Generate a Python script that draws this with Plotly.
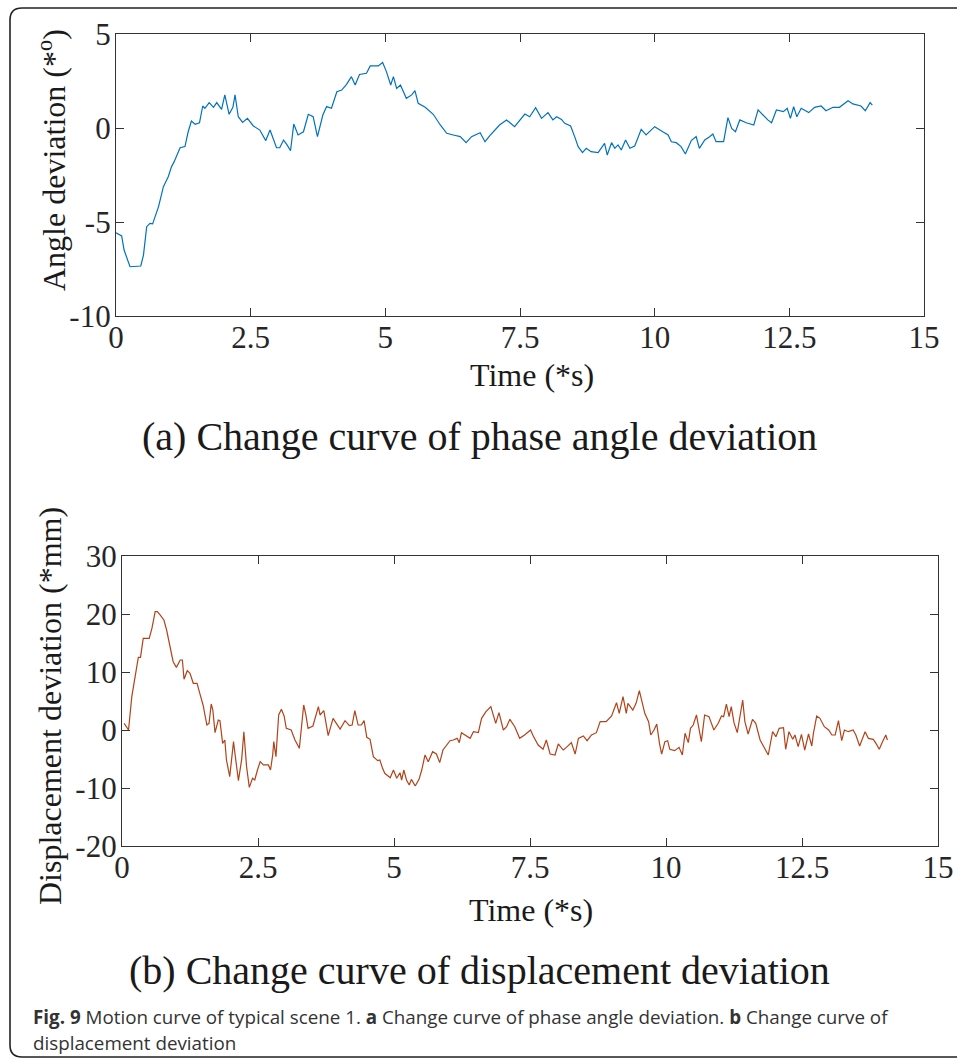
import plotly.graph_objects as go

W, H = 957, 1060

# ---------------- data ----------------
angle_t = [0, 0.105, 0.15, 0.26, 0.46, 0.51, 0.57, 0.63, 0.68, 0.79, 0.88, 0.97, 1.03, 1.08,
           1.19, 1.28, 1.34, 1.40, 1.47, 1.55, 1.61, 1.65, 1.73, 1.81, 1.87, 1.96, 2.02, 2.10,
           2.17, 2.21, 2.27, 2.35, 2.44, 2.55, 2.67, 2.78, 2.86, 2.91, 2.98, 3.04, 3.11, 3.17,
           3.24, 3.30, 3.38, 3.48, 3.57, 3.66, 3.74, 3.84, 3.91, 4.00, 4.10, 4.19, 4.28, 4.37,
           4.44, 4.52, 4.65, 4.72, 4.87, 4.95, 5.02, 5.10, 5.15, 5.21, 5.28, 5.39, 5.49, 5.55,
           5.61, 5.74, 5.89, 6.02, 6.14, 6.26, 6.39, 6.50, 6.60, 6.76, 6.85, 6.94, 7.12, 7.25,
           7.40, 7.59, 7.68, 7.79, 7.90, 8.02, 8.11, 8.18, 8.27, 8.33, 8.44, 8.52, 8.58, 8.66,
           8.73, 8.82, 8.95, 9.07, 9.12, 9.20, 9.26, 9.32, 9.38, 9.46, 9.54, 9.63, 9.75, 9.84,
           10.0, 10.15, 10.25, 10.31, 10.40, 10.49, 10.57, 10.68, 10.77, 10.83, 10.93, 11.02,
           11.08, 11.14, 11.28, 11.36, 11.43, 11.50, 11.58, 11.70, 11.84, 11.92, 12.01, 12.10,
           12.17, 12.26, 12.39, 12.46, 12.52, 12.58, 12.64, 12.72, 12.86, 12.97, 13.09, 13.18,
           13.31, 13.43, 13.59, 13.68, 13.83, 13.91, 14.00, 14.04]
angle_v = [-5.57, -5.74, -6.49, -7.38, -7.34, -6.76, -5.25, -5.07, -5.1, -4.18, -3.12, -2.59,
           -2.06, -1.79, -1.05, -0.99, -0.2, 0.37, 0.2, 0.28, 1.17, 1.05, 1.35, 1.1, 1.35, 0.99,
           1.76, 0.73, 1.1, 1.76, 0.6, 0.3, 0.51, 0.11, -0.11, -0.67, -0.11, -0.46, -1.05, -1.05,
           -0.64, -0.87, -1.21, 0.21, -0.37, -0.2, 0.73, 0.6, -0.46, 0.69, 1.14, 1.05, 1.93, 2.02,
           2.32, 2.73, 2.29, 2.85, 2.91, 3.3, 3.3, 3.48, 3.0, 2.29, 2.73, 2.11, 2.29, 1.58, 1.76,
           1.99, 1.31, 1.1, 0.73, 0.16, -0.28, -0.37, -0.46, -0.78, -0.46, -0.25, -0.73, -0.41,
           0.16, 0.43, 0.07, 0.74, 0.6, 1.08, 0.51, 0.82, 0.43, 0.6, 0.46, 0.25, 0.11, -0.5,
           -0.99, -1.31, -1.08, -1.26, -1.31, -0.82, -1.44, -0.78, -1.08, -0.9, -1.17, -0.64,
           -1.08, -0.96, -0.07, -0.37, 0.07, -0.2, -0.37, -0.73, -0.78, -0.99, -1.38, -0.67,
           -0.46, -1.08, -0.64, -0.46, -0.32, -0.73, -0.73, 0.55, -0.02, -0.2, 0.43, 0.28, 0.16,
           0.96, 0.69, 0.43, 0.28, 0.96, 0.87, 1.05, 0.51, 1.13, 0.6, 1.05, 0.82, 1.1, 1.17, 0.92,
           1.1, 1.1, 1.45, 1.28, 1.17, 0.92, 1.35, 1.22]

disp_t = [0.04, 0.12, 0.18, 0.26, 0.30, 0.34, 0.39, 0.50, 0.55, 0.61, 0.65, 0.70, 0.77, 0.82,
          0.88, 0.94, 1.00, 1.07, 1.11, 1.14, 1.20, 1.25, 1.31, 1.38, 1.43, 1.49, 1.56, 1.60,
          1.64, 1.67, 1.71, 1.77, 1.80, 1.85, 1.89, 1.92, 1.98, 2.05, 2.08, 2.14, 2.20, 2.24,
          2.29, 2.34, 2.40, 2.44, 2.49, 2.54, 2.60, 2.69, 2.73, 2.77, 2.79, 2.83, 2.88, 2.93,
          2.98, 3.02, 3.11, 3.18, 3.26, 3.30, 3.34, 3.38, 3.42, 3.51, 3.56, 3.61, 3.64, 3.71,
          3.79, 3.88, 3.94, 4.01, 4.10, 4.18, 4.23, 4.28, 4.34, 4.40, 4.45, 4.50, 4.56, 4.62,
          4.70, 4.74, 4.79, 4.83, 4.93, 4.99, 5.05, 5.11, 5.14, 5.18, 5.23, 5.28, 5.32, 5.39,
          5.46, 5.51, 5.57, 5.63, 5.71, 5.78, 5.84, 5.90, 6.03, 6.09, 6.16, 6.20, 6.24, 6.30,
          6.40, 6.46, 6.55, 6.61, 6.69, 6.78, 6.82, 6.87, 6.93, 7.01, 7.07, 7.13, 7.22, 7.31,
          7.40, 7.51, 7.56, 7.65, 7.74, 7.80, 7.87, 7.96, 8.02, 8.11, 8.17, 8.26, 8.33, 8.39,
          8.48, 8.55, 8.63, 8.72, 8.79, 8.90, 9.00, 9.06, 9.09, 9.14, 9.21, 9.27, 9.30, 9.39,
          9.45, 9.51, 9.57, 9.61, 9.68, 9.72, 9.78, 9.83, 9.88, 9.92, 9.98, 10.03, 10.07, 10.16,
          10.24, 10.30, 10.35, 10.41, 10.45, 10.50, 10.56, 10.65, 10.71, 10.79, 10.88, 10.96,
          11.02, 11.06, 11.11, 11.16, 11.20, 11.25, 11.31, 11.37, 11.41, 11.45, 11.51, 11.59,
          11.65, 11.73, 11.80, 11.88, 11.96, 12.02, 12.08, 12.16, 12.20, 12.26, 12.33, 12.37,
          12.43, 12.49, 12.55, 12.62, 12.68, 12.71, 12.77, 12.83, 12.91, 12.99, 13.05, 13.11,
          13.17, 13.23, 13.28, 13.35, 13.44, 13.49, 13.56, 13.66, 13.72, 13.81, 13.86, 13.92,
          13.98, 14.04, 14.07]
disp_v = [1.15, 0, 5.75, 10.63, 12.53, 12.53, 15.8, 15.8, 17.53, 20.4, 20.4, 19.83, 18.97,
          17.24, 14.66, 11.78, 10.8, 12.07, 12.07, 8.74, 10.23, 9.77, 8.05, 8.05, 6.32, 4.31,
          0.86, 1.15, 4.48, 3.45, -0.46, 1.72, 1.61, -2.3, -1.72, -5.17, -8.05, -2.01, -4.31,
          -8.74, -5.06, -0.29, -6.32, -9.89, -8.33, -8.62, -6.9, -5.46, -6.03, -6.03, -6.9,
          -4.31, -2.01, -4.6, 2.59, 3.56, 2.41, 0.29, 0, -1.72, -3.16, 0.57, 4.31, 2.59, 0.29,
          0.69, 2.59, 4.02, 2.59, 3.33, -0.98, 2.01, 1.15, 0.17, 1.61, 0.75, 0.86, 3.33, 0.86,
          0.86, 1.61, -1.26, -1.61, -4.6, -5.29, -5.17, -6.61, -7.47, -8.22, -6.9, -8.33, -7.36,
          -8.62, -6.9, -8.62, -9.48, -8.51, -9.66, -8.51, -6.9, -4.31, -5.46, -3.74, -4.14,
          -5.63, -3.45, -1.84, -1.72, -1.44, -2.18, -0.46, -0.86, -1.44, -0.29, -0.46, 2.01,
          3.16, 4.02, 2.59, 1.15, 2.99, 0, 0.57, 1.84, 0.57, -1.44, -0.86, 0, -1.03, -2.59,
          -3.33, -1.72, -4.14, -4.31, -2.41, -3.45, -2.99, -2.18, -4.14, -1.44, -1.03, -1.84,
          -0.86, -0.46, 1.44, 1.44, 2.41, 3.74, 4.71, 2.87, 5.75, 2.87, 4.6, 3.45, 4.6, 6.78,
          4.6, 2.87, 1.44, -0.86, 0, 1.03, -2.3, -4.14, -2.01, -1.84, -3.33, -3.56, -2.99, -4.31,
          -0.57, -2.18, 0.29, 0.86, 2.59, -2.01, 2.59, 2.3, 0, 1.15, 2.41, 2.3, 4.48, 2.3, 4.02,
          1.26, -0.46, 2.59, 5.17, 1.44, -0.69, 1.84, 1.15, -1.72, -2.87, -4.31, -0.29, -1.15,
          0.29, 0.4, -3.33, -0.29, -1.61, -0.86, -2.87, -0.75, -3.45, -0.69, -2.76, -0.57, 2.41,
          2.01, 0.57, 0, -0.86, -0.86, 1.61, -1.84, 0, -0.29, 0, -0.86, -2.76, -0.29, -1.44,
          -1.61, -2.3, -3.33, -2.01, -0.86, -1.72]

x_tickvals = [0, 2.5, 5, 7.5, 10, 12.5, 15]
x_ticktext = ["0", "2.5", "5", "7.5", "10", "12.5", "15"]
angle_tickvals = [-10, -5, 0, 5]
angle_ticktext = ["-10", "-5", "0", "5"]
disp_tickvals = [-20, -10, 0, 10, 20, 30]
disp_ticktext = ["-20", "-10", "0", "10", "20", "30"]

# ---------------- layout helpers ----------------
def px(x):
    return x / W

def py(y):
    return 1 - y / H

SERIF = "Liberation Serif, Times New Roman, serif"
AX = "#333333"
TICKFONT = dict(family=SERIF, size=31, color="#262626")

fig = go.Figure()
fig.add_trace(go.Scatter(x=angle_t, y=angle_v, mode="lines",
                         line=dict(color="#0072BD", width=1.2),
                         xaxis="x", yaxis="y", showlegend=False))
fig.add_trace(go.Scatter(x=disp_t, y=disp_v, mode="lines",
                         line=dict(color="#B0431A", width=1.2),
                         xaxis="x2", yaxis="y2", showlegend=False))

common = dict(showgrid=False, zeroline=False, showline=True, linecolor=AX, linewidth=1.3,
              mirror="ticks", ticks="inside", ticklen=8, tickwidth=1.2, tickcolor=AX,
              tickfont=TICKFONT, fixedrange=True, automargin=False)

fig.update_layout(
    template="none",
    width=W, height=H, autosize=False,
    margin=dict(l=0, r=0, t=0, b=0, pad=0, autoexpand=False),
    paper_bgcolor="white", plot_bgcolor="white",
    showlegend=False,
    xaxis=dict(domain=[px(116), px(924)], range=[0, 15], anchor="y",
               tickvals=x_tickvals, ticktext=x_ticktext, ticklabelstandoff=-6, **common),
    yaxis=dict(domain=[py(316), py(34)], range=[-10, 5], anchor="x",
               tickvals=angle_tickvals, ticktext=angle_ticktext, ticklabelstandoff=-2, **common),
    xaxis2=dict(domain=[px(122), px(938)], range=[0, 15], anchor="y2",
                tickvals=x_tickvals, ticktext=x_ticktext, ticklabelstandoff=-6, **common),
    yaxis2=dict(domain=[py(846), py(556)], range=[-20, 30], anchor="x2",
                tickvals=disp_tickvals, ticktext=disp_ticktext, ticklabelstandoff=-2, **common),
)

def note(text, x, y, size, angle=0, family=SERIF, xanchor="center", color="#1a1a1a"):
    fig.add_annotation(text=text, x=px(x), y=py(y), xref="paper", yref="paper",
                       showarrow=False, textangle=angle, xanchor=xanchor, yanchor="middle",
                       font=dict(family=family, size=size, color=color))

note("Angle deviation (*<sup>o</sup>)", 52, 160, 32, angle=-90)
note("Time (*s)", 532, 375, 32)
note("(a) Change curve of phase angle deviation", 479, 436, 40)
note("Displacement deviation (*mm)", 50, 706, 32, angle=-90)
note("Time (*s)", 531, 910, 32)
note("(b) Change curve of displacement deviation", 479, 970, 40)

CAP = "Open Sans, Noto Sans, sans-serif"
note("<b>Fig. 9</b> Motion curve of typical scene 1. <b>a</b> Change curve of phase angle "
     "deviation. <b>b</b> Change curve of", 31, 1017, 18.8, family=CAP, xanchor="left",
     color="#333333")
note("displacement deviation", 31, 1043, 18.8, family=CAP, xanchor="left", color="#333333")

# outer rounded frame (open on the right, as in the reference)
r = 12
path = (f"M {px(965)},{py(8)} L {px(10 + r)},{py(8)} "
        f"Q {px(10)},{py(8)} {px(10)},{py(8 + r)} "
        f"L {px(10)},{py(1057 - r)} Q {px(10)},{py(1057)} {px(10 + r)},{py(1057)} "
        f"L {px(965)},{py(1057)}")
fig.add_shape(type="path", path=path, xref="paper", yref="paper",
              line=dict(color="#222222", width=1.6))

fig.write_html("out.html", config={"displayModeBar": False},
               post_script="document.body.style.margin='0';document.body.style.overflow='hidden';")
